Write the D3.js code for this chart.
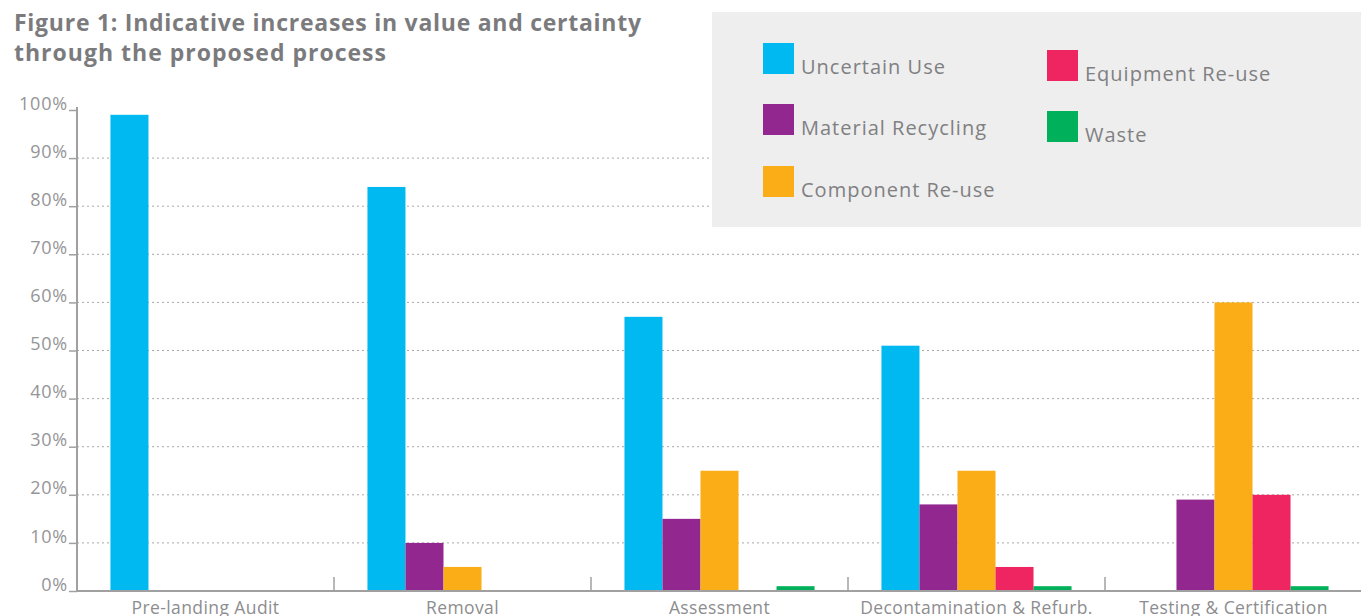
<!DOCTYPE html>
<html>
<head>
<meta charset="utf-8">
<script src="https://cdn.jsdelivr.net/npm/d3@7"></script>
<style>
  body { margin: 0; background: #ffffff; }
  svg { display: block; font-family: "Open Sans", Lato, sans-serif; }
</style>
</head>
<body>
<svg id="chart"></svg>
<script>
// Chart data
const categories = ['Pre-landing Audit', 'Removal', 'Assessment', 'Decontamination & Refurb.', 'Testing & Certification'];
const seriesNames = ['Uncertain Use', 'Material Recycling', 'Component Re-use', 'Equipment Re-use', 'Waste'];
const uncertainUse = [99, 84, 57, 51, 0];
const materialRecycling = [0, 10, 15, 18, 19];
const componentReuse = [0, 5, 25, 25, 60];
const equipmentReuse = [0, 0, 0, 5, 20];
const waste = [0, 0, 1, 1, 1];
const yTicks = [0, 10, 20, 30, 40, 50, 60, 70, 80, 90, 100];
const colors = ['#00b9f1', '#92278f', '#fbad18', '#ee2560', '#00b05a'];

const seriesValues = [uncertainUse, materialRecycling, componentReuse, equipmentReuse, waste];

const width = 1361;
const height = 616;
const margin = { top: 110, right: -1, bottom: 25, left: 77 };
const font = '"Open Sans", Lato, sans-serif';

const svg = d3.select('#chart')
  .attr('width', width)
  .attr('height', height);

// Scales
const x0 = d3.scaleBand()
  .domain(categories)
  .range([margin.left, width - margin.right])
  .padding(0);

const x1 = d3.scaleBand()
  .domain(seriesNames)
  .range([0, x0.bandwidth()])
  .paddingInner(0)
  .paddingOuter(0.88);

const y = d3.scaleLinear()
  .domain([0, 100])
  .range([height - margin.bottom, margin.top]);

const axisColor = '#a0a0a0';
const textColor = '#8d8d8f';

// Gridlines (dotted)
svg.append('g')
  .selectAll('line')
  .data(yTicks.filter(d => d > 0 && d < 100))
  .join('line')
  .attr('x1', margin.left)
  .attr('x2', width)
  .attr('y1', d => y(d))
  .attr('y2', d => y(d))
  .attr('stroke', '#a8a8a8')
  .attr('stroke-width', 1)
  .attr('stroke-dasharray', '2,3');

// Bars
const rows = [];
categories.forEach((c, i) => {
  seriesNames.forEach((s, j) => {
    rows.push({ category: c, series: s, value: seriesValues[j][i], color: colors[j] });
  });
});

svg.append('g')
  .selectAll('rect')
  .data(rows.filter(d => d.value > 0))
  .join('rect')
  .attr('x', d => x0(d.category) + x1(d.series))
  .attr('y', d => y(d.value))
  .attr('width', x1.bandwidth())
  .attr('height', d => y(0) - y(d.value))
  .attr('fill', d => d.color);

// Y axis
const yAxis = svg.append('g')
  .attr('transform', `translate(${margin.left},0)`)
  .call(d3.axisLeft(y).tickValues(yTicks).tickFormat(d => d + '%').tickSize(8).tickPadding(1));
yAxis.attr('font-family', font);
yAxis.select('.domain').remove();
yAxis.selectAll('.tick line').attr('stroke', axisColor).attr('stroke-width', 1.5);
yAxis.selectAll('.tick text')
  .attr('fill', '#959597')
  .attr('dy', '-0.05em')
  .style('font-size', '18px')
  .style('letter-spacing', '0.8px');

svg.append('line')
  .attr('x1', margin.left).attr('x2', margin.left)
  .attr('y1', margin.top - 3).attr('y2', y(0))
  .attr('stroke', axisColor).attr('stroke-width', 2);

// X axis
const xAxis = svg.append('g')
  .attr('transform', `translate(0,${y(0)})`)
  .call(d3.axisBottom(x0).tickSize(0).tickPadding(11));
xAxis.attr('font-family', font);
xAxis.select('.domain').remove();
xAxis.selectAll('.tick text')
  .attr('fill', textColor)
  .style('font-size', '17.5px')
  .style('letter-spacing', '0.4px');

svg.append('line')
  .attr('x1', margin.left - 1).attr('x2', width)
  .attr('y1', y(0)).attr('y2', y(0))
  .attr('stroke', axisColor).attr('stroke-width', 2);

// Group separators
svg.append('g')
  .selectAll('line')
  .data(categories.slice(1))
  .join('line')
  .attr('x1', d => x0(d)).attr('x2', d => x0(d))
  .attr('y1', y(0) - 14).attr('y2', y(0))
  .attr('stroke', axisColor).attr('stroke-width', 1.5);

// Title
const title = svg.append('text')
  .attr('x', 14)
  .attr('y', 31)
  .attr('fill', '#7b7b7e')
  .style('font-size', '23px')
  .style('font-weight', 'bold');
title.append('tspan').attr('x', 14)
  .attr('textLength', 627).attr('lengthAdjust', 'spacing')
  .text('Figure 1: Indicative increases in value and certainty');
title.append('tspan').attr('x', 14).attr('dy', 30)
  .attr('textLength', 372).attr('lengthAdjust', 'spacing')
  .text('through the proposed process');

// Legend
const legend = svg.append('g');
legend.append('rect')
  .attr('x', 712).attr('y', 12)
  .attr('width', width - 712).attr('height', 215)
  .attr('fill', '#eeeeee');

const legendPos = [
  { x: 763, y: 43 }, { x: 763, y: 104 }, { x: 763, y: 166 },
  { x: 1047, y: 50 }, { x: 1047, y: 111 }
];

const items = legend.selectAll('g.item')
  .data(seriesNames)
  .join('g')
  .attr('class', 'item')
  .attr('transform', (d, i) => `translate(${legendPos[i].x},${legendPos[i].y})`);

items.append('rect')
  .attr('width', 31).attr('height', 31)
  .attr('fill', (d, i) => colors[i]);

items.append('text')
  .attr('x', 38).attr('y', 31)
  .attr('fill', '#808082')
  .style('font-size', '20px')
  .style('letter-spacing', '1px')
  .text(d => d);
</script>
</body>
</html>
